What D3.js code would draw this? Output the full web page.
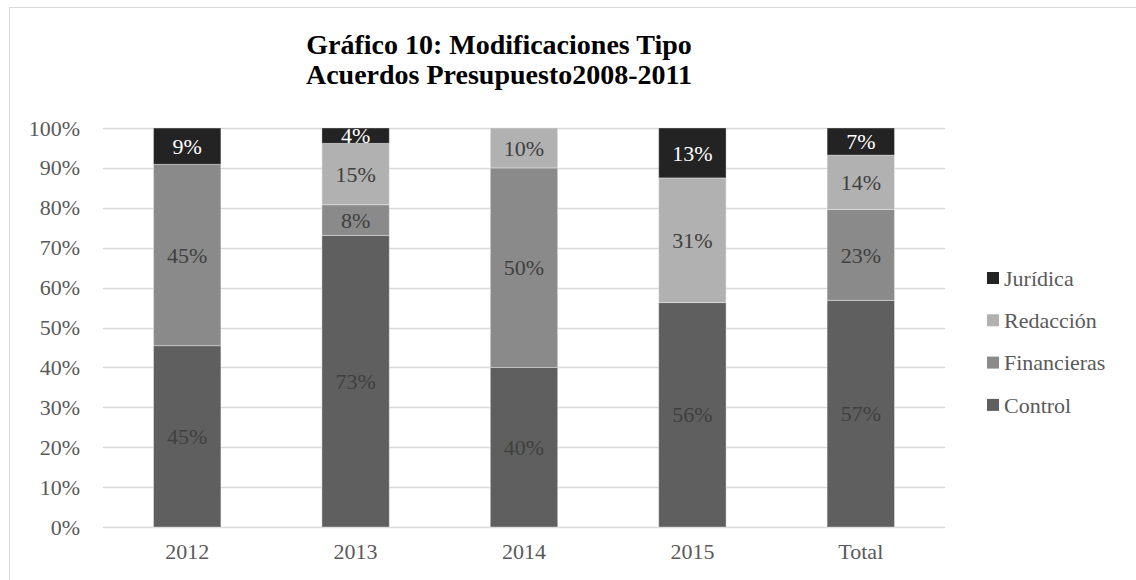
<!DOCTYPE html>
<html>
<head>
<meta charset="utf-8">
<script src="https://cdn.jsdelivr.net/npm/d3@7"></script>
<style>
  body { margin: 0; background: #fff; }
  svg text { font-family: "Liberation Serif", "Times New Roman", serif; }
</style>
</head>
<body>
<svg id="chart"></svg>
<script>
'use strict';

var categories = ["2012", "2013", "2014", "2015", "Total"];
var seriesNames = ["Control", "Financieras", "Redacción", "Jurídica"];
var control     = [45.45, 73.08, 40, 56.25, 56.8];
var financieras = [45.45, 7.69, 50, 0, 22.8];
var redaccion   = [0, 15.38, 10, 31.25, 13.6];
var juridica    = [9.09, 3.85, 0, 12.5, 6.8];
var labels = {
    "Control":     ["45%", "73%", "40%", "56%", "57%"],
    "Financieras": ["45%", "8%", "50%", "", "23%"],
    "Redacción":   ["", "15%", "10%", "31%", "14%"],
    "Jurídica":    ["9%", "4%", "", "13%", "7%"]
};
var yTicks = [0, 10, 20, 30, 40, 50, 60, 70, 80, 90, 100];

var FONT = "'Liberation Serif', 'Times New Roman', serif";

function show_chart() {
    var width = 1136,
        height = 580;

    var colors = {
        "Control": "#5f5f5f",
        "Financieras": "#8a8a8a",
        "Redacción": "#b1b1b1",
        "Jurídica": "#232323"
    };
    var labelColors = {
        "Control": "#404040",
        "Financieras": "#404040",
        "Redacción": "#404040",
        "Jurídica": "#ffffff"
    };

    var rows = categories.map(function(c, i) {
        return { cat: c, i: i, "Control": control[i], "Financieras": financieras[i],
                 "Redacción": redaccion[i], "Jurídica": juridica[i] };
    });

    var svg = d3.select("#chart")
                .attr("width", width)
                .attr("height", height);

    // outer chart border
    svg.append("rect")
        .attr("x", 9.5).attr("y", 7.5)
        .attr("width", width).attr("height", height)
        .attr("fill", "#fff")
        .attr("stroke", "#d9d9d9");

    var x = d3.scaleBand()
                .domain(categories)
                .range([103, 945])
                .paddingInner(0.6)
                .paddingOuter(0.3);

    var y = d3.scaleLinear()
                .domain([0, 100])
                .range([527, 128]);

    // gridlines
    svg.append("g")
        .selectAll("line")
        .data(yTicks)
        .enter().append("line")
            .attr("x1", 103).attr("x2", 945)
            .attr("y1", function(d) { return Math.round(y(d)) + 0.5; })
            .attr("y2", function(d) { return Math.round(y(d)) + 0.5; })
            .attr("stroke", "#d9d9d9")
            .attr("stroke-width", 1.5);

    // y axis labels
    var yAxis = d3.axisLeft(y)
                    .tickValues(yTicks)
                    .tickSize(0)
                    .tickPadding(0)
                    .tickFormat(function(d) { return d + "%"; });
    var gy = svg.append("g")
                .attr("transform", "translate(80,0)")
                .call(yAxis)
                .attr("font-family", FONT)
                .attr("font-size", 22);
    gy.select(".domain").remove();
    gy.selectAll("text").attr("fill", "#595959");

    // x axis labels
    var xAxis = d3.axisBottom(x).tickSize(0).tickPadding(0);
    var gx = svg.append("g")
                .attr("transform", "translate(0,543)")
                .call(xAxis)
                .attr("font-family", FONT)
                .attr("font-size", 22);
    gx.select(".domain").remove();
    gx.selectAll("text").attr("fill", "#595959");

    var stack = d3.stack().keys(seriesNames);
    var series = stack(rows);

    var layer = svg.append("g")
                    .selectAll("g")
                    .data(series)
                .enter().append("g")
                    .attr("fill", function(d) { return colors[d.key]; });

    layer.selectAll("rect")
        .data(function(d) { return d.map(function(p) { p.key = d.key; return p; }); })
        .enter().append("rect")
            .filter(function(d) { return d[1] - d[0] > 0; })
            .attr("x", function(d) { return x(d.data.cat); })
            .attr("width", x.bandwidth())
            .attr("y", function(d) { return y(d[1]); })
            .attr("height", function(d) { return y(d[0]) - y(d[1]); })
            .attr("stroke", "#ffffff")
            .attr("stroke-opacity", 0.35)
            .attr("stroke-width", 1);

    layer.selectAll("text")
        .data(function(d) { return d; })
        .enter().append("text")
            .filter(function(d) { return labels[d.key][d.data.i] !== ""; })
            .attr("x", function(d) { return x(d.data.cat) + x.bandwidth() / 2; })
            .attr("y", function(d) { return (y(d[0]) + y(d[1])) / 2; })
            .attr("dy", "0.35em")
            .attr("text-anchor", "middle")
            .attr("font-family", FONT)
            .attr("font-size", 22)
            .attr("fill", function(d) { return labelColors[d.key]; })
            .text(function(d) { return labels[d.key][d.data.i]; });

    // title
    var title = svg.append("text")
                    .attr("text-anchor", "middle")
                    .attr("font-family", FONT)
                    .attr("font-weight", "bold")
                    .attr("font-size", 28)
                    .attr("fill", "#000");
    title.append("tspan").attr("x", 499).attr("y", 54).text("Gráfico 10: Modificaciones Tipo");
    title.append("tspan").attr("x", 499).attr("y", 84).text("Acuerdos Presupuesto2008-2011");

    // legend
    var legendKeys = ["Jurídica", "Redacción", "Financieras", "Control"];
    var legend = svg.append("g")
                    .selectAll("g")
                    .data(legendKeys)
                .enter().append("g")
                    .attr("transform", function(d, i) { return "translate(987," + (278 + i * 42.3) + ")"; });

    legend.append("rect")
        .attr("x", 0).attr("y", -6)
        .attr("width", 12).attr("height", 12)
        .attr("fill", function(d) { return colors[d]; });

    legend.append("text")
        .attr("x", 17)
        .attr("dy", "0.35em")
        .attr("font-family", FONT)
        .attr("font-size", 22)
        .attr("fill", "#595959")
        .text(function(d) { return d; });
}

show_chart();
</script>
</body>
</html>
